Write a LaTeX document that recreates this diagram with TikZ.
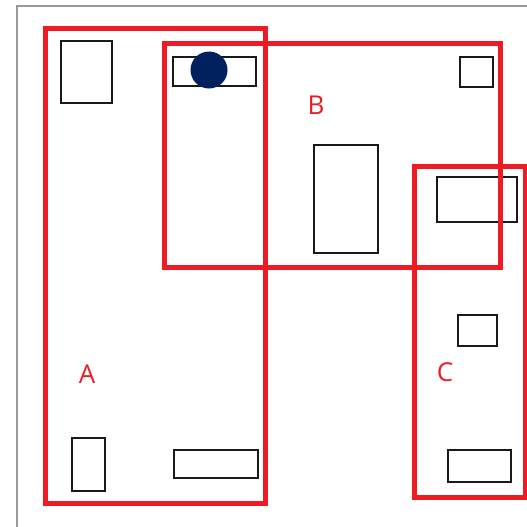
\documentclass[tikz,border=0pt]{standalone}
\usepackage{fontspec}
\setmainfont{Open Sans}
\definecolor{zred}{HTML}{ED1C24}
\definecolor{znavy}{HTML}{00215E}
\definecolor{zgray}{HTML}{999999}
\begin{document}
\begin{tikzpicture}[x=1pt,y=-1pt,
  item/.style={draw=black!90,line width=2.8pt},
  zone/.style={draw=zred,line width=5pt},
  zlabel/.style={text=zred,font=\fontsize{26}{26}\selectfont,inner sep=0pt},
  frame/.style={draw=zgray,line width=2pt}]
\useasboundingbox (0,0) rectangle (527,527);
\begin{scope}
\clip (0,0) rectangle (527,527);
\draw[frame] (17,540) -- (17,6.5) -- (540,6.5);
% black items
\draw[item] (61,41) rectangle (112,103);
\draw[item] (173,57) rectangle (256,86);
\draw[item] (460,57) rectangle (493,87);
\draw[item] (314,145) rectangle (378,253);
\draw[item] (437,177) rectangle (517,222);
\draw[item] (458,315) rectangle (497,346);
\draw[item] (448,450) rectangle (511,482);
\draw[item] (72,438) rectangle (105,491);
\draw[item] (174,450) rectangle (258,478);
% red zones
\draw[zone] (45,29) rectangle (265,503);
\draw[zone] (164,44) rectangle (500,267);
\draw[zone] (414,166) rectangle (525,497);
\fill[znavy] (209,70) circle (18.5);
\end{scope}
\node[zlabel] (la) at (87,374) {A};
\node[zlabel] (lb) at (316,105) {B};
\node[zlabel] (lc) at (445,372) {C};
\end{tikzpicture}
\end{document}
